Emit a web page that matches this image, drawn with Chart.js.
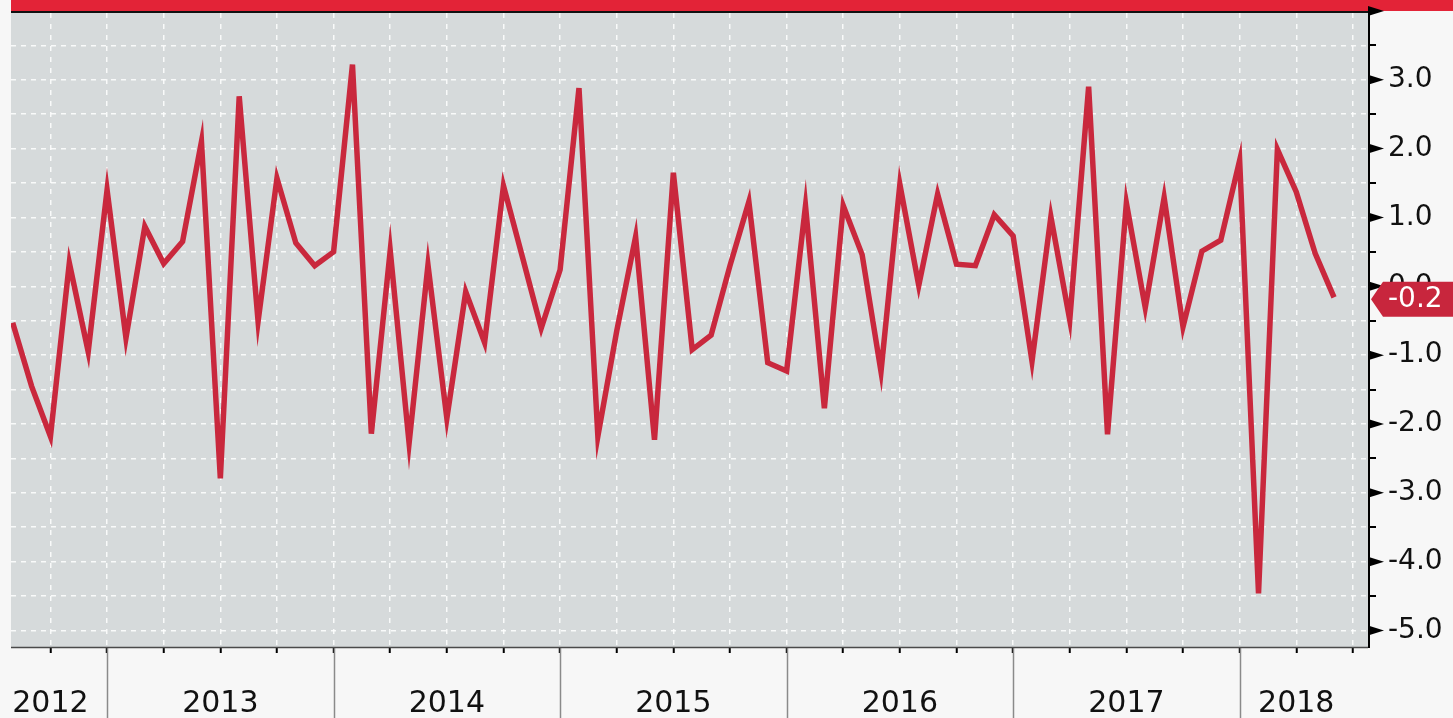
<!DOCTYPE html>
<html>
<head>
<meta charset="utf-8">
<style>
html, body { margin: 0; padding: 0; background: #f7f7f7; overflow: hidden; }
#wrap { position: relative; width: 1453px; height: 718px; }
</style>
<script src="https://cdn.jsdelivr.net/npm/chart.js@4.4.1/dist/chart.umd.min.js"></script>
</head>
<body>
<div id="wrap"><canvas id="ipChart"></canvas></div>
<script>
'use strict';
// monthly change, Aug 2012 .. Jun 2018
let values = [
    -0.53, -1.45, -2.18, 0.34, -0.95, 1.40, -0.75, 0.87, 0.33, 0.65,
    2.10, -2.79, 2.76, -0.51, 1.57, 0.63, 0.30, 0.50, 3.22, -2.14,
    0.52, -2.28, 0.31, -1.92, -0.08, -0.82, 1.46, 0.43, -0.61, 0.24,
    2.88, -2.18, -0.65, 0.72, -2.23, 1.65, -0.92, -0.71, 0.30, 1.23,
    -1.11, -1.23, 1.17, -1.77, 1.17, 0.46, -1.24, 1.48, 0.01, 1.34,
    0.32, 0.30, 1.04, 0.73, -1.09, 1.01, -0.49, 2.90, -2.15, 1.21,
    -0.31, 1.29, -0.59, 0.51, 0.67, 1.83, -4.46, 1.99, 1.37, 0.48,
    -0.16
];
let years = ['2012', '2013', '2014', '2015', '2016', '2017', '2018'];
let yearLabelAt = [2, 11, 23, 35, 47, 59, 68];   // month index where the year name sits
let yearStarts = [5, 17, 29, 41, 53, 65];         // January of each year
let quarterTicks = [];
for (let i = 2; i <= 71; i += 3) quarterTicks.push(i);
let gridValues = [-5, -4.5, -4, -3.5, -3, -2.5, -2, -1.5, -1, -0.5, 0, 0.5, 1, 1.5, 2, 2.5, 3, 3.5];
let majorMarks = [-5, -4, -3, -2, -1, 0, 1, 2, 3, 4];
let minorMarks = [-4.5, -3.5, -2.5, -1.5, -0.5, 0.5, 1.5, 2.5, 3.5];
let lastLabel = '-0.2';

let points = values.map((v, i) => ({ x: i, y: v }));

const lineRed = '#c9283d';

let decor = {
    id: 'decor',
    beforeDraw(chart) {
        const c = chart.ctx, a = chart.chartArea;
        c.save();
        c.fillStyle = '#f7f7f7';
        c.fillRect(0, 0, chart.width, chart.height);
        c.fillStyle = '#d6dadb';
        c.fillRect(a.left, a.top, a.right - a.left, a.bottom - a.top);
        // header band
        c.fillStyle = '#e32337';
        c.fillRect(a.left, 0, chart.width - a.left, 11);
        c.fillStyle = '#111';
        c.fillRect(a.left, 11, a.right - a.left + 2, 2);
        c.restore();
    },
    afterDraw(chart) {
        const c = chart.ctx, a = chart.chartArea;
        const xs = chart.scales.x, ys = chart.scales.y;
        c.save();
        // year separators under the axis
        c.strokeStyle = '#8a8a8a';
        c.lineWidth = 1.5;
        yearStarts.forEach(function (i) {
            let px = Math.round(xs.getPixelForValue(i)) + 0.5;
            c.beginPath();
            c.moveTo(px, a.bottom);
            c.lineTo(px, chart.height);
            c.stroke();
        });
        // bottom axis line
        c.strokeStyle = '#4a4a4a';
        c.lineWidth = 1.5;
        c.beginPath();
        c.moveTo(a.left, a.bottom + 0.5);
        c.lineTo(a.right, a.bottom + 0.5);
        c.stroke();
        // right axis line
        c.strokeStyle = '#000';
        c.lineWidth = 2;
        c.beginPath();
        c.moveTo(a.right + 1, a.top);
        c.lineTo(a.right + 1, a.bottom + 1);
        c.stroke();
        // major marks: wedges
        c.fillStyle = '#000';
        majorMarks.forEach(function (v) {
            let py = ys.getPixelForValue(v);
            c.beginPath();
            c.moveTo(a.right, py - 5);
            c.lineTo(a.right + 16, py);
            c.lineTo(a.right, py + 5);
            c.closePath();
            c.fill();
        });
        // minor marks
        c.lineWidth = 2;
        minorMarks.forEach(function (v) {
            let py = Math.round(ys.getPixelForValue(v));
            c.beginPath();
            c.moveTo(a.right, py);
            c.lineTo(a.right + 8, py);
            c.stroke();
        });
        // last value tag
        let ty = ys.getPixelForValue(values[values.length - 1]) + 2;
        c.fillStyle = '#c8263d';
        c.beginPath();
        c.moveTo(a.right + 3, ty);
        c.lineTo(a.right + 15, ty - 17.5);
        c.lineTo(chart.width, ty - 17.5);
        c.lineTo(chart.width, ty + 17.5);
        c.lineTo(a.right + 15, ty + 17.5);
        c.closePath();
        c.fill();
        c.fillStyle = '#fff';
        c.font = '28px "DejaVu Sans"';
        c.textBaseline = 'middle';
        c.textAlign = 'left';
        c.fillText(lastLabel, a.right + 20, ty);
        c.restore();
    }
};

new Chart(document.getElementById('ipChart'), {
    type: 'line',
    data: {
        datasets: [{
            data: points,
            borderColor: lineRed,
            borderWidth: 5.5,
            pointRadius: 0,
            tension: 0,
            fill: false
        }]
    },
    options: {
        responsive: true,
        maintainAspectRatio: false,
        animation: false,
        layout: { padding: { left: 11, top: 13, right: 0, bottom: 0 } },
        plugins: { legend: { display: false }, tooltip: { enabled: false } },
        scales: {
            x: {
                type: 'linear',
                min: -0.09,
                max: 71.8,
                afterBuildTicks(scale) {
                    scale.ticks = quarterTicks.map(v => ({ value: v }));
                },
                afterFit(scale) {
                    scale.height = 71;
                    scale.paddingLeft = 0;
                    scale.paddingRight = 0;
                },
                ticks: {
                    autoSkip: false,
                    maxRotation: 0,
                    padding: 33,
                    color: '#111',
                    font: { family: 'DejaVu Sans', size: 30 },
                    callback(v) {
                        let k = yearLabelAt.indexOf(v);
                        return k >= 0 ? years[k] : '';
                    }
                },
                grid: {
                    color: 'rgba(255,255,255,0.85)',
                    lineWidth: 1.5,
                    drawTicks: true,
                    tickLength: 6,
                    tickColor: '#000',
                    tickWidth: 2
                },
                border: { display: false, dash: [5, 6] }
            },
            y: {
                position: 'right',
                min: -5.24,
                max: 3.97,
                afterBuildTicks(scale) {
                    scale.ticks = gridValues.map(v => ({ value: v }));
                },
                afterFit(scale) {
                    scale.width = 85;
                    scale.paddingTop = 0;
                    scale.paddingBottom = 0;
                },
                ticks: {
                    padding: 20,
                    color: '#111',
                    font: { family: 'DejaVu Sans', size: 28 },
                    callback(v) {
                        return Number.isInteger(v) ? v.toFixed(1) : '';
                    }
                },
                grid: {
                    color: 'rgba(255,255,255,0.85)',
                    lineWidth: 1.5,
                    drawTicks: false
                },
                border: { display: false, dash: [5, 5] }
            }
        }
    },
    plugins: [decor]
});
</script>
</body>
</html>
